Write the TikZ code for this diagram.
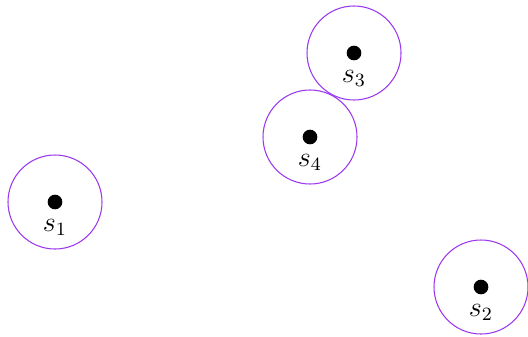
\documentclass[tikz,border=0pt]{standalone}
\usepackage{amsmath, amssymb}
\usepackage{xcolor}
\definecolor{ringviolet}{RGB}{155,55,240}

\begin{document}
\begin{tikzpicture}[x=0.015cm, y=-0.015cm,
    ring/.style={circle, draw=ringviolet, line width=0.45pt, inner sep=0pt, minimum size=1.41cm},
    site/.style={circle, fill=black, inner sep=0pt, minimum size=0.22cm},
    every label/.style={font=\fontsize{11.5}{13}\selectfont, label distance=0.5pt}]
    \useasboundingbox (0,0) rectangle (528,336);
    % Sites with their rings
    \foreach \i/\x/\y in {1/55/202, 2/481/287, 3/354/53, 4/310/137} {
        \node[ring] (ring\i) at (\x,\y) {};
        \node[site, label={below:$s_\i$}] (s\i) at (\x,\y) {};
    }
\end{tikzpicture}
\end{document}
